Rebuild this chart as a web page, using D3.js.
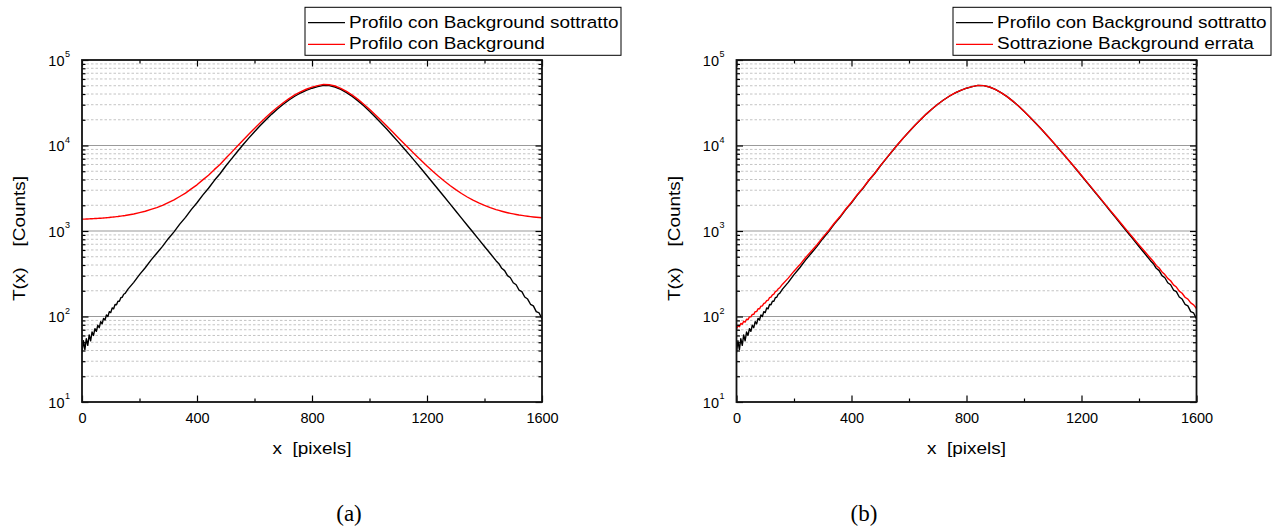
<!DOCTYPE html>
<html><head><meta charset="utf-8">
<script src="https://cdn.jsdelivr.net/npm/d3@7/dist/d3.min.js"></script>
<style>body{margin:0;background:#fff} svg{display:block}</style>
</head><body>
<svg id="chart" width="1274" height="532"></svg>
<script>
// ---- data ----
const xValues = [0,5,10,15,20,25,30,35,40,45,50,55,60,65,70,75,80,85,90,95,100,105,110,115,120,125,130,135,140,145,150,
 160,180,200,220,240,260,280,300,320,340,360,380,400,420,440,460,480,
 500,520,540,560,580,600,620,640,660,680,700,720,740,760,780,800,820,840,860,880,
 900,920,940,960,980,1000,1020,1040,1060,1080,1100,1120,1140,1160,1180,1200,1220,1240,1260,1280,
 1300,1320,1340,1360,1380,1400,1420,1440,
 1450,1460,1470,1480,1490,1500,1510,1520,1530,1540,1550,1560,1570,1580,1590,1600];

const profiloSottratto = [38,52,41,55,46,61,52,66,60,72,67,79,74,87,82,95,91,104,100,114,111,126,123,138,137,151,151,166,168,182,186,
 209,251,309,372,457,550,661,813,977,1202,1445,1778,2138,2630,3162,3890,4677,
 5754,6982,8453,10186,12190,14488,17100,20045,23281,26730,30339,34041,37670,41115,44157,46774,48865,50466,50119,48306,
 45290,41591,37497,33266,29107,25177,21577,18365,15560,13122,11015,9226,7709,6427,5346,4436,3673,3041,2512,2075,
 1714,1416,1169,966,798,659,545,450,
 415,366,344,301,284,248,235,204,195,169,160,139,133,114,110,94];

const profiloConBackground = [1374,1376,1378,1381,1383,1386,1389,1391,1394,1398,1401,1405,1408,1412,1416,1421,1425,1430,1435,1440,1446,1451,1457,1464,1471,1477,1485,1493,1501,1509,1518,
 1539,1581,1639,1702,1787,1880,1991,2143,2307,2532,2775,3108,3468,3960,4492,5220,6007,
 7084,8312,9783,11516,13520,15818,18430,21375,24611,28060,31669,35371,39000,42445,45487,48104,50195,51796,51449,49636,
 46620,42921,38827,34596,30437,26507,22907,19695,16890,14452,12345,10556,9039,7757,6676,5766,5003,4371,3842,3405,
 3044,2746,2499,2296,2128,1989,1875,1780,
 1739,1702,1668,1637,1609,1584,1561,1539,1521,1503,1487,1473,1460,1448,1437,1427];

const sottrazioneErrata = [72,78,76,83,81,88,86,93,92,99,99,106,106,114,114,123,123,132,133,142,144,153,155,166,169,179,183,195,199,211,216,
 239,281,339,402,487,580,691,843,1007,1232,1475,1808,2168,2660,3192,3920,4707,
 5784,7012,8483,10216,12220,14518,17130,20075,23311,26760,30369,34071,37700,41145,44187,46804,48895,50496,50149,48336,
 45320,41621,37527,33296,29137,25207,21607,18395,15590,13152,11045,9256,7739,6457,5376,4466,3703,3071,2542,2105,
 1744,1446,1199,996,828,689,575,480,
 440,396,369,332,309,279,262,234,221,198,187,168,160,144,137,124];

const xTicks = [0,400,800,1200,1600];
const xMinorTicks = [200,600,1000,1400];
const yDecades = [10,100,1000,10000,100000];
const yExponents = ["1","2","3","4","5"];
const yMinorMultipliers = [2,3,4,5,6,7,8,9];

const legendA = ["Profilo con Background sottratto","Profilo con Background"];
const legendB = ["Profilo con Background sottratto","Sottrazione Background errata"];
const xTitle = "x  [pixels]";
const yTitle = "T(x)    [Counts]";
const captions = ["(a)","(b)"];

// ---- layout ----
const svg = d3.select("#chart");
const TOP = 60, BOTTOM = 402;
const SANS = "'Liberation Sans', Arial, sans-serif";
const STRETCH = 1.163;

const yMinor = [];
yDecades.slice(0,-1).forEach(d => yMinorMultipliers.forEach(m => yMinor.push(d*m)));

const panels = [
  {left:82, right:542, series:[
     {values:profiloSottratto, color:"#000000"},
     {values:profiloConBackground, color:"#ff0000"}],
   legend:legendA, legBox:{x:305,y:7.3,w:316,h:48}, caption:captions[0], capX:349},
  {left:736.5, right:1196.5, series:[
     {values:profiloSottratto, color:"#000000"},
     {values:sottrazioneErrata, color:"#ff0000"}],
   legend:legendB, legBox:{x:953,y:7.3,w:318,h:48}, caption:captions[1], capX:864}
];

panels.forEach(p => {
  const x = d3.scaleLinear().domain([0,1600]).range([p.left,p.right]);
  const y = d3.scaleLog().domain([10,100000]).range([BOTTOM,TOP]);
  const g = svg.append("g");

  // grid
  g.selectAll(".gminor").data(yMinor).join("line")
    .attr("x1",p.left).attr("x2",p.right)
    .attr("y1",d=>y(d)).attr("y2",d=>y(d))
    .attr("stroke","#c4c4c4").attr("stroke-width",1).attr("stroke-dasharray","2.5,2");
  g.selectAll(".gmajor").data(yDecades.slice(1,-1)).join("line")
    .attr("x1",p.left).attr("x2",p.right)
    .attr("y1",d=>y(d)).attr("y2",d=>y(d))
    .attr("stroke","#9a9a9a").attr("stroke-width",1.2);

  // curves
  const clipId = "clip"+Math.round(p.left);
  svg.append("clipPath").attr("id",clipId).append("rect")
    .attr("x",p.left).attr("y",TOP).attr("width",p.right-p.left).attr("height",BOTTOM-TOP);
  const line = vals => d3.line().x((d,i)=>x(xValues[i])).y(d=>y(d))(vals);
  p.series.forEach(s => {
    g.append("path").attr("d",line(s.values)).attr("fill","none")
      .attr("stroke",s.color).attr("stroke-width",1.4).attr("stroke-linejoin","round")
      .attr("clip-path",`url(#${clipId})`);
  });

  // axes (inward ticks)
  const fontTick = "14.5px";
  const xb = g.append("g").attr("transform",`translate(0,${BOTTOM})`)
    .call(d3.axisBottom(x).tickValues(xTicks).tickSize(-6.5).tickPadding(10.5).tickFormat(d3.format("d")));
  const xbm = g.append("g").attr("transform",`translate(0,${BOTTOM})`)
    .call(d3.axisBottom(x).tickValues(xMinorTicks).tickSize(-3.5).tickFormat(""));
  const xt = g.append("g").attr("transform",`translate(0,${TOP})`)
    .call(d3.axisTop(x).tickValues(xTicks).tickSize(-6.5).tickFormat(""));
  const xtm = g.append("g").attr("transform",`translate(0,${TOP})`)
    .call(d3.axisTop(x).tickValues(xMinorTicks).tickSize(-3.5).tickFormat(""));
  const yl = g.append("g").attr("transform",`translate(${p.left},0)`)
    .call(d3.axisLeft(y).tickValues(yDecades).tickSize(-6.5).tickFormat(""));
  const ylm = g.append("g").attr("transform",`translate(${p.left},0)`)
    .call(d3.axisLeft(y).tickValues(yMinor).tickSize(-3.5).tickFormat(""));
  const yr = g.append("g").attr("transform",`translate(${p.right},0)`)
    .call(d3.axisRight(y).tickValues(yDecades).tickSize(-6.5).tickFormat(""));
  const yrm = g.append("g").attr("transform",`translate(${p.right},0)`)
    .call(d3.axisRight(y).tickValues(yMinor).tickSize(-3.5).tickFormat(""));
  [xb,xbm,xt,xtm,yl,ylm,yr,yrm].forEach(a => {
    a.select(".domain").remove();
    a.selectAll("line").attr("stroke","#000").attr("stroke-width",1.2);
  });
  xb.selectAll("text").attr("font-family",SANS).attr("font-size",fontTick).attr("fill","#000");

  // y tick labels 10^n
  yl.selectAll(".tick").each(function(d){
    const tk = d3.select(this);
    tk.selectAll("text").remove();
    tk.append("text").attr("x",-17.5).attr("y",5.2).attr("text-anchor","end")
      .attr("font-family",SANS).attr("font-size",fontTick).attr("fill","#000").text("10");
    tk.append("text").attr("x",-17).attr("y",-3.5).attr("text-anchor","start")
      .attr("font-family",SANS).attr("font-size","9px").attr("fill","#000")
      .text(yExponents[yDecades.indexOf(d)]);
  });

  // frame
  g.append("rect").attr("x",p.left).attr("y",TOP).attr("width",p.right-p.left).attr("height",BOTTOM-TOP)
    .attr("fill","none").attr("stroke","#111").attr("stroke-width",1.8);

  // axis titles
  const cx = (p.left+p.right)/2;
  g.append("text").attr("transform",`translate(${cx},454) scale(${STRETCH},1)`)
    .attr("text-anchor","middle").attr("font-family",SANS).attr("font-size","16.3px")
    .style("white-space","pre").text(xTitle);
  g.append("text").attr("transform",`translate(${p.left-57},238.5) rotate(-90) scale(${STRETCH},1)`)
    .attr("text-anchor","middle").attr("font-family",SANS).attr("font-size","16.3px")
    .style("white-space","pre").text(yTitle);

  // legend
  const lb = p.legBox;
  const lg = svg.append("g");
  lg.append("rect").attr("x",lb.x).attr("y",lb.y).attr("width",lb.w).attr("height",lb.h)
    .attr("fill","#fff").attr("stroke","#000").attr("stroke-width",1);
  p.series.forEach((s,i) => {
    const ly = lb.y + 15.4 + i*21.6;
    lg.append("line").attr("x1",lb.x+3).attr("x2",lb.x+40).attr("y1",ly).attr("y2",ly)
      .attr("stroke",s.color).attr("stroke-width",1.2);
    lg.append("text").attr("transform",`translate(${lb.x+44},${ly+4.8}) scale(${STRETCH},1)`)
      .attr("font-family",SANS).attr("font-size","16.3px").attr("fill","#000").text(p.legend[i]);
  });

  // caption
  svg.append("text").attr("x",p.capX).attr("y",521).attr("text-anchor","middle")
    .attr("font-family","'Liberation Serif', 'DejaVu Serif', serif").attr("font-size","23px")
    .text(p.caption);
});
</script>
</body></html>
